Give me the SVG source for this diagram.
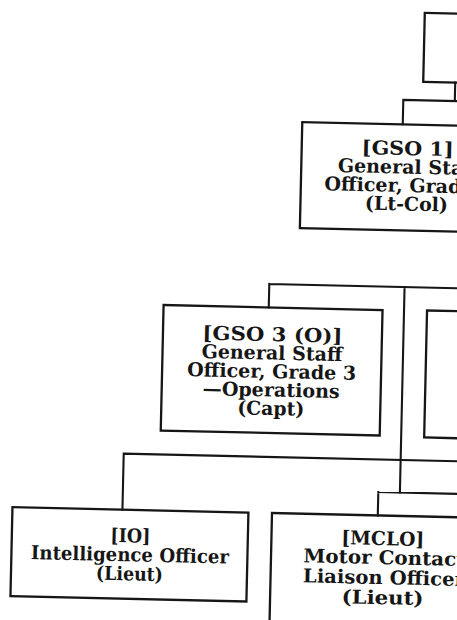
<svg xmlns="http://www.w3.org/2000/svg" width="457" height="620" viewBox="0 0 457 620">
  <style>
    .box { fill: none; stroke: #161616; stroke-width: 2.3; }
    .conn { fill: none; stroke: #161616; stroke-width: 2.1; stroke-linecap: square; }
    .lbl { font-family: "DejaVu Serif", "Liberation Serif", serif; font-weight: bold; font-size: 19px; fill: #161616; text-anchor: middle; }
  </style>
  <rect x="0" y="0" width="457" height="620" fill="#ffffff"/>
  <g transform="rotate(1.3 228 310)">
    <g id="connectors">
      <path class="conn" d="M450 77.5 V96 M398.5 96 H560 M398.5 96 V120.3"/>
      <path class="conn" d="M268.7 283 H560 M268.7 283 V306.5 M404 283 V488.6"/>
      <path class="conn" d="M127 456 H560 M127 456 V512"/>
      <path class="conn" d="M382.4 488.6 H560 M382.4 488.6 V512"/>
    </g>
    <g id="node-top">
      <rect class="box" x="418" y="8.5" width="140" height="69"/>
    </g>
    <g id="node-gso1">
      <rect class="box" x="298" y="120.5" width="212" height="106"/>
      <text class="lbl" x="404" y="151" textLength="92" lengthAdjust="spacingAndGlyphs">[GSO 1]</text>
      <text class="lbl" x="405" y="169.5" textLength="141" lengthAdjust="spacingAndGlyphs">General Staff</text>
      <text class="lbl" x="406" y="188" textLength="169" lengthAdjust="spacingAndGlyphs">Officer, Grade 1</text>
      <text class="lbl" x="404" y="206.5" textLength="83" lengthAdjust="spacingAndGlyphs">(Lt-Col)</text>
    </g>
    <g id="node-gso3o">
      <rect class="box" x="163.5" y="306.5" width="219" height="125.5"/>
      <text class="lbl" x="273" y="340" textLength="140" lengthAdjust="spacingAndGlyphs">[GSO 3 (O)]</text>
      <text class="lbl" x="273" y="358.5" textLength="141" lengthAdjust="spacingAndGlyphs">General Staff</text>
      <text class="lbl" x="273" y="377" textLength="169" lengthAdjust="spacingAndGlyphs">Officer, Grade 3</text>
      <text class="lbl" x="273" y="395.5" textLength="137" lengthAdjust="spacingAndGlyphs">—Operations</text>
      <text class="lbl" x="273" y="414" textLength="67" lengthAdjust="spacingAndGlyphs">(Capt)</text>
    </g>
    <g id="node-right">
      <rect class="box" x="427" y="306" width="223" height="127"/>
    </g>
    <g id="node-io">
      <rect class="box" x="17" y="512" width="236" height="89"/>
      <text class="lbl" x="135.5" y="544.5" textLength="40" lengthAdjust="spacingAndGlyphs">[IO]</text>
      <text class="lbl" x="135.5" y="563.5" textLength="198" lengthAdjust="spacingAndGlyphs">Intelligence Officer</text>
      <text class="lbl" x="135.5" y="582.5" textLength="67" lengthAdjust="spacingAndGlyphs">(Lieut)</text>
    </g>
    <g id="node-mclo">
      <rect class="box" x="276.6" y="512" width="220.4" height="130"/>
      <text class="lbl" x="388" y="541.5" textLength="83" lengthAdjust="spacingAndGlyphs">[MCLO]</text>
      <text class="lbl" x="390" y="560.5" textLength="162" lengthAdjust="spacingAndGlyphs">Motor Contact</text>
      <text class="lbl" x="390" y="580.5" textLength="162" lengthAdjust="spacingAndGlyphs">Liaison Officer</text>
      <text class="lbl" x="389" y="600.5" textLength="82" lengthAdjust="spacingAndGlyphs">(Lieut)</text>
    </g>
  </g>
</svg>
